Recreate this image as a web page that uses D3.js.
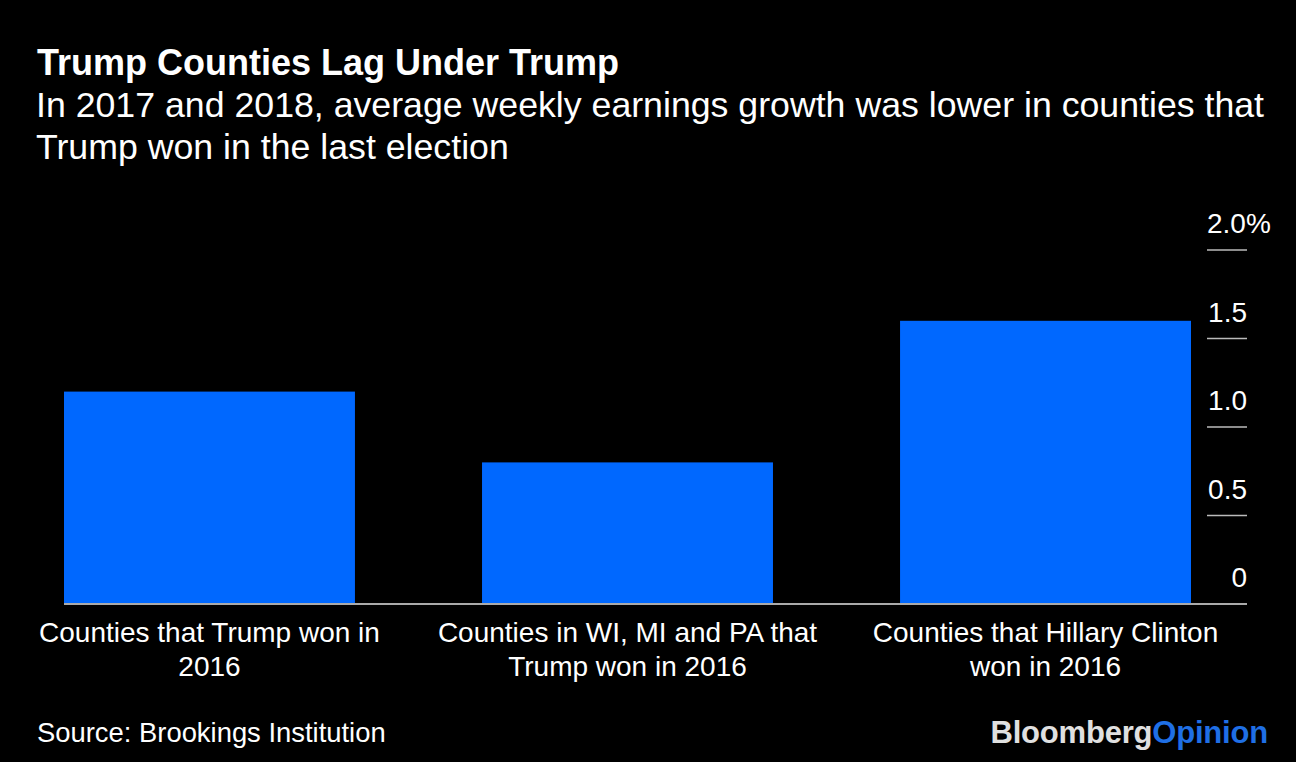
<!DOCTYPE html>
<html><head><meta charset="utf-8">
<script src="https://cdn.jsdelivr.net/npm/d3@7"></script>
<style>html,body{margin:0;padding:0;background:#000;}svg{display:block;}</style>
</head><body>
<script>
const categories = [
  ["Counties that Trump won in", "2016"],
  ["Counties in WI, MI and PA that", "Trump won in 2016"],
  ["Counties that Hillary Clinton", "won in 2016"]
];
const values = [1.2, 0.8, 1.6];
const tickValues = [0, 0.5, 1.0, 1.5, 2.0];
const tickLabels = ["0", "0.5", "1.0", "1.5", "2.0%"];

const W = 1296, H = 762;
const font = "'Liberation Sans', Arial, Helvetica, sans-serif";
const svg = d3.select("body").append("svg").attr("width", W).attr("height", H)
  .style("background", "#000");

svg.append("text").attr("x", 37).attr("y", 75).attr("fill", "#fff")
  .attr("font-family", font).attr("font-weight", "bold").attr("font-size", 36)
  .text("Trump Counties Lag Under Trump");
const sub = ["In 2017 and 2018, average weekly earnings growth was lower in counties that", "Trump won in the last election"];
sub.forEach((s, i) => svg.append("text").attr("x", 36).attr("y", 117 + i * 42).attr("fill", "#fff")
  .attr("font-family", font).attr("font-size", 35.7).text(s));

const y = d3.scaleLinear().domain([0, 2]).range([604, 250]);
const x = d3.scaleBand().domain(d3.range(categories.length)).range([64, 1191])
  .paddingInner(0.304).paddingOuter(0);

svg.selectAll("rect.bar").data(values).join("rect").attr("class", "bar")
  .attr("x", (d, i) => x(i)).attr("width", x.bandwidth())
  .attr("y", d => y(d)).attr("height", d => y(0) - y(d))
  .attr("fill", "#0068ff");

// y axis ticks on right
const tg = svg.append("g");
tickValues.forEach((t, i) => {
  if (t !== 0) tg.append("line").attr("x1", 1207).attr("x2", 1247)
    .attr("y1", y(t)).attr("y2", y(t)).attr("stroke", "#bbb").attr("stroke-width", 1.5);
  const lab = tickLabels[i];
  const hasPct = lab.endsWith("%");
  const txt = tg.append("text").attr("x", 1247).attr("y", y(t) - 17)
    .attr("fill", "#fff").attr("font-family", font).attr("font-size", 28)
    .attr("text-anchor", hasPct ? "start" : "end");
  if (hasPct) {
    txt.attr("x", 1207).text(lab);
  } else txt.text(lab);
});

// baseline
svg.append("line").attr("x1", 64).attr("x2", 1247).attr("y1", y(0)).attr("y2", y(0))
  .attr("stroke", "#aaa").attr("stroke-width", 2);

// category labels
categories.forEach((lines, i) => {
  const cx = x(i) + x.bandwidth() / 2;
  lines.forEach((l, j) => svg.append("text").attr("x", cx).attr("y", 642 + j * 34)
    .attr("text-anchor", "middle").attr("fill", "#fff").attr("font-family", font)
    .attr("font-size", 28).text(l));
});

svg.append("text").attr("x", 37).attr("y", 742).attr("fill", "#fff")
  .attr("font-family", font).attr("font-size", 27.4).text("Source: Brookings Institution");

const logo = svg.append("text").attr("x", 1268).attr("y", 743).attr("text-anchor", "end")
  .attr("font-family", font).attr("font-weight", "bold").attr("font-size", 31)
  .attr("letter-spacing", -0.2);
logo.append("tspan").attr("fill", "#e0e0e0").text("Bloomberg");
logo.append("tspan").attr("fill", "#1f6fe5").text("Opinion");
</script>
</body></html>
